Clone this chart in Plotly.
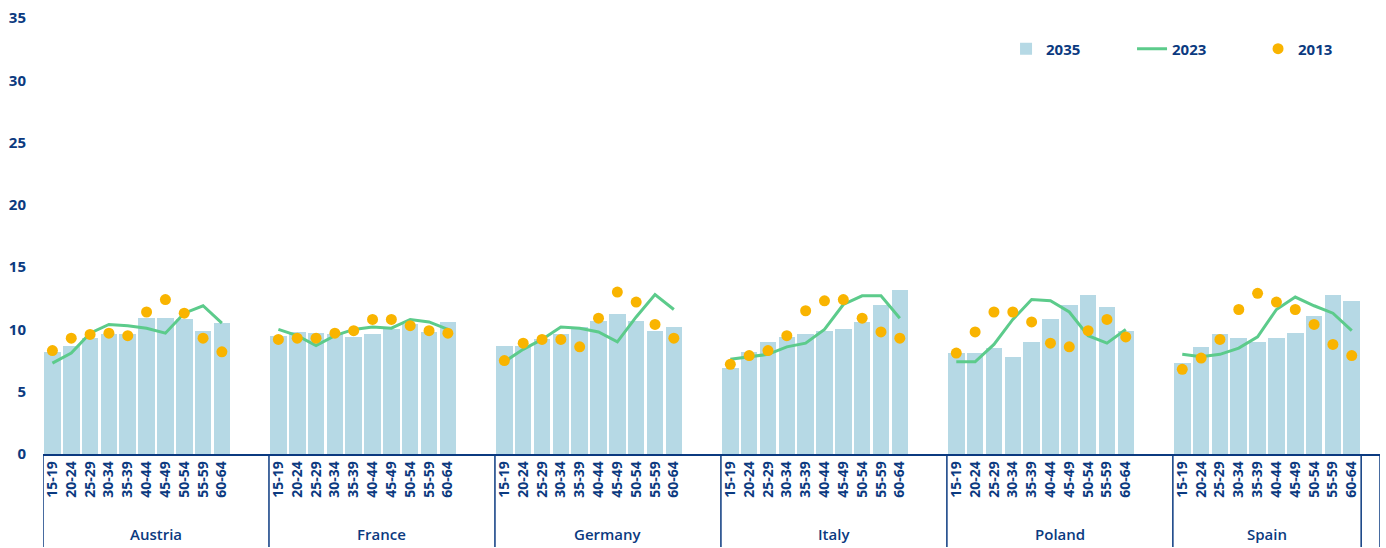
import plotly.graph_objects as go

countries = ["Austria", "France", "Germany", "Italy", "Poland", "Spain"]
ages = ["15-19", "20-24", "25-29", "30-34", "35-39", "40-44", "45-49", "50-54", "55-59", "60-64"]

val_2035 = [
    [8.2, 8.7, 9.3, 9.6, 9.6, 10.9, 10.9, 10.8, 9.9, 10.5],
    [9.5, 9.8, 9.7, 9.6, 9.4, 9.6, 10.0, 10.4, 9.8, 10.6],
    [8.7, 8.7, 9.2, 9.6, 10.2, 10.7, 11.2, 10.7, 9.9, 10.2],
    [6.9, 8.2, 9.0, 9.4, 9.6, 9.9, 10.0, 10.6, 12.0, 13.2],
    [8.1, 8.1, 8.5, 7.8, 9.0, 10.8, 12.0, 12.8, 11.8, 9.9],
    [7.3, 8.6, 9.6, 9.3, 9.0, 9.3, 9.7, 11.1, 12.8, 12.3],
]

val_2023 = [
    [7.3, 8.1, 9.7, 10.4, 10.3, 10.1, 9.7, 11.3, 11.9, 10.5],
    [10.0, 9.5, 8.7, 9.5, 10.0, 10.2, 10.1, 10.8, 10.6, 10.0],
    [7.4, 8.4, 9.2, 10.2, 10.1, 9.8, 9.0, 11.0, 12.8, 11.6],
    [7.6, 7.8, 8.0, 8.6, 8.9, 10.0, 12.0, 12.7, 12.7, 10.9],
    [7.4, 7.4, 8.8, 10.8, 12.4, 12.3, 11.4, 9.5, 8.9, 10.0],
    [8.0, 7.8, 8.0, 8.5, 9.4, 11.6, 12.6, 11.9, 11.3, 9.9],
]

val_2013 = [
    [8.3, 9.3, 9.6, 9.7, 9.5, 11.4, 12.4, 11.3, 9.3, 8.2],
    [9.2, 9.3, 9.3, 9.7, 9.9, 10.8, 10.8, 10.3, 9.9, 9.7],
    [7.5, 8.9, 9.2, 9.2, 8.6, 10.9, 13.0, 12.2, 10.4, 9.3],
    [7.2, 7.9, 8.3, 9.5, 11.5, 12.3, 12.4, 10.9, 9.8, 9.3],
    [8.1, 9.8, 11.4, 11.4, 10.6, 8.9, 8.6, 9.9, 10.8, 9.4],
    [6.8, 7.7, 9.2, 11.6, 12.9, 12.2, 11.6, 10.4, 8.8, 7.9],
]

NAVY = "#0b3a80"
BAR = "#b6d9e5"
GREEN = "#5ccb8b"
ORANGE = "#f9b400"
FONT = "Open Sans"
SLOTS = 12

bx, by, lx, ly, dx, dy = [], [], [], [], [], []
tickvals, ticktext = [], []
for g, c in enumerate(countries):
    base = SLOTS * g
    for i, a in enumerate(ages):
        x = base + i
        bx.append(x); by.append(val_2035[g][i])
        lx.append(x); ly.append(val_2023[g][i])
        dx.append(x); dy.append(val_2013[g][i])
        tickvals.append(x); ticktext.append(a)
    lx.append(base + 10); ly.append(None)

fig = go.Figure()
fig.add_trace(go.Bar(x=bx, y=by, name="2035", width=0.88,
                     marker=dict(color=BAR, line=dict(width=0))))
fig.add_trace(go.Scatter(x=lx, y=ly, name="2023", mode="lines",
                         line=dict(color=GREEN, width=3), connectgaps=False))
fig.add_trace(go.Scatter(x=dx, y=dy, name="2013", mode="markers",
                         marker=dict(color=ORANGE, size=11, line=dict(width=0))))

n_slots = SLOTS * (len(countries) - 1) + 11
H_PLOT = 436
ybottom = -(548 - 455) / H_PLOT

seps = [SLOTS * g - 0.5 for g in range(len(countries))] + [SLOTS * 5 + 9.5, n_slots - 0.5]
for s in seps:
    fig.add_shape(type="line", xref="x", yref="paper", x0=s, x1=s, y0=0, y1=ybottom,
                  line=dict(color=NAVY, width=1.5))

for g, c in enumerate(countries):
    center = SLOTS * g + 5.5 if g < len(countries) - 1 else SLOTS * g + 4.5
    fig.add_annotation(x=center, y=-(534 - 454) / H_PLOT, xref="x", yref="paper",
                       text=c, showarrow=False, yanchor="middle",
                       font=dict(family=FONT, size=15, color=NAVY, weight=600))

fig.update_layout(
    width=1386, height=548,
    margin=dict(l=43, r=6, t=18, b=94, autoexpand=False),
    paper_bgcolor="white", plot_bgcolor="white",
    bargap=0,
    showlegend=True,
    legend=dict(orientation="h", x=0.7203, y=0.929, xanchor="left", yanchor="middle",
                font=dict(family=FONT, size=15, color=NAVY, weight=700),
                entrywidth=81, entrywidthmode="pixels", traceorder="normal",
                bgcolor="rgba(0,0,0,0)"),
    xaxis=dict(range=[-0.5, n_slots - 0.5], tickvals=tickvals, ticktext=ticktext,
               tickangle=-90, showline=True, linecolor=NAVY, linewidth=1.5,
               showgrid=False, zeroline=False, ticks="",
               tickfont=dict(family=FONT, size=14, color=NAVY, weight=700)),
    yaxis=dict(range=[0, 35], tickvals=[0, 5, 10, 15, 20, 25, 30, 35],
               showline=False, showgrid=False, zeroline=False, ticks="",
               ticklabelstandoff=16,
               tickfont=dict(family=FONT, size=15, color=NAVY, weight=700)),
)

fig.write_html("out.html")
